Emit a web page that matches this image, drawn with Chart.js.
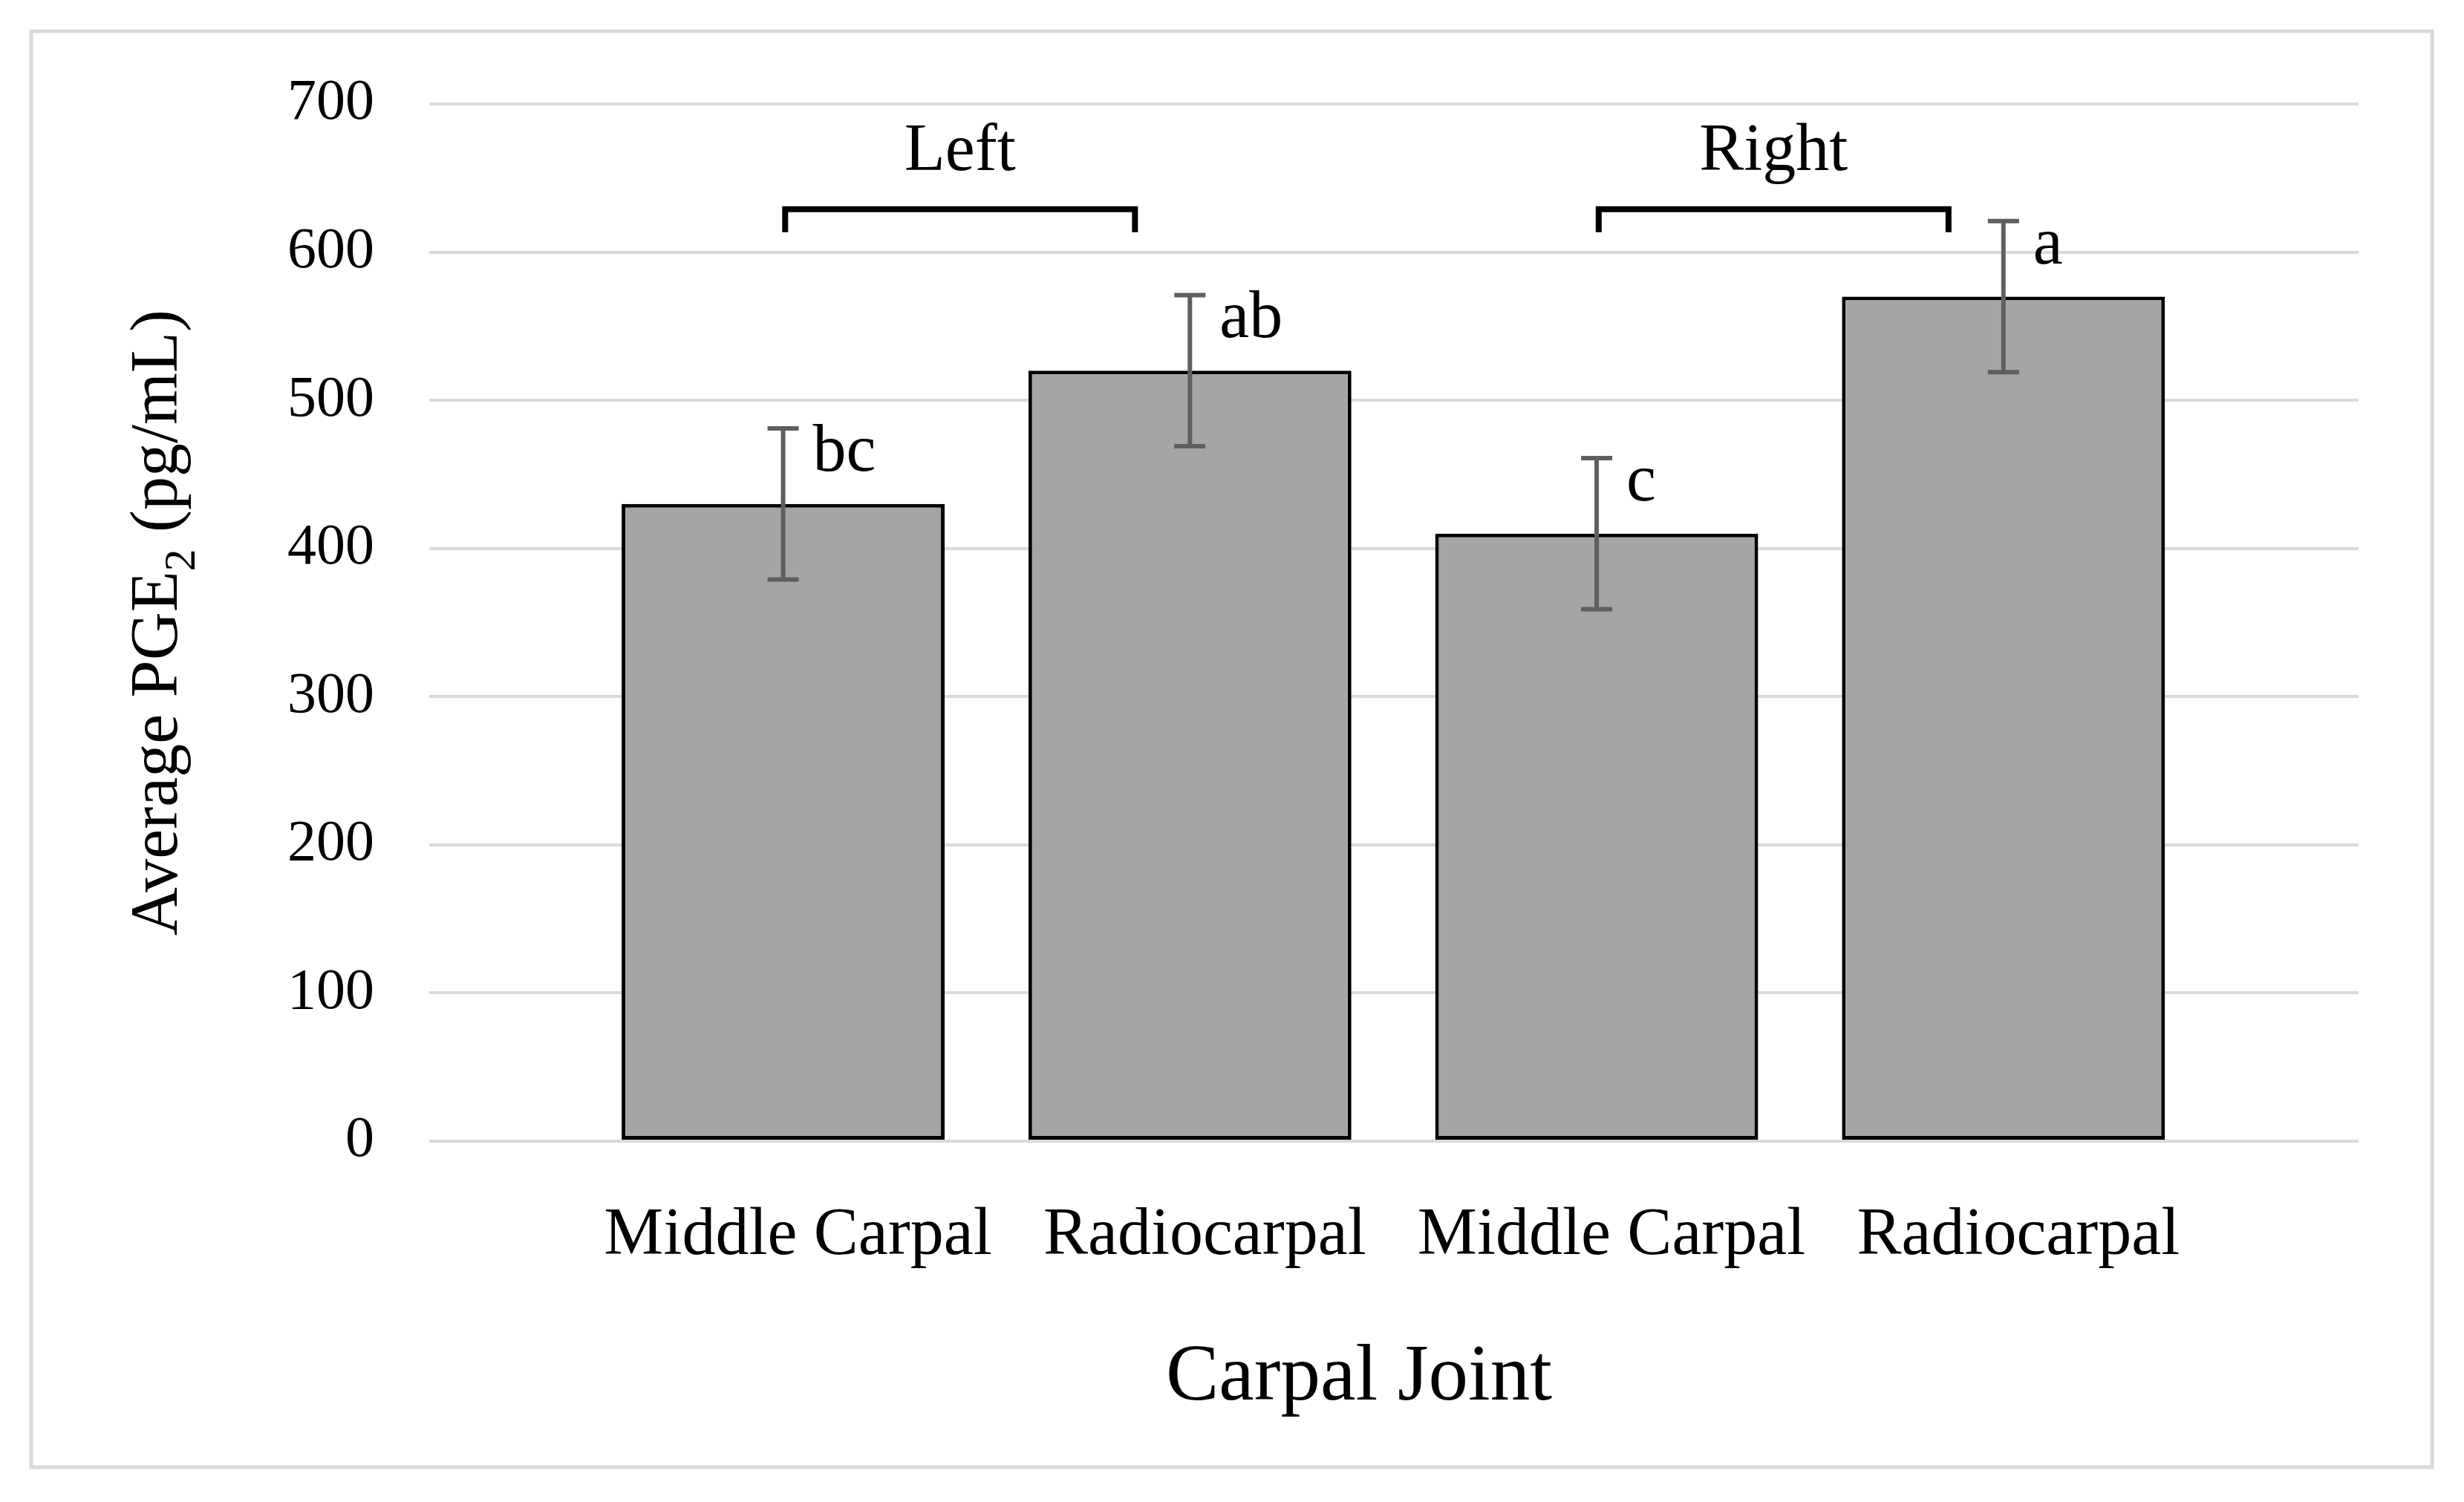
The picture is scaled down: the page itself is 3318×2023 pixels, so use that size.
<!DOCTYPE html>
<html>
<head>
<meta charset="utf-8">
<script src="https://cdn.jsdelivr.net/npm/chart.js@4.4.1/dist/chart.umd.min.js"></script>
<style>
  html, body { margin: 0; padding: 0; background: #fff; }
  #wrap { width: 3318px; height: 2023px; position: relative; }
</style>
</head>
<body>
<div id="wrap"><canvas id="myChart"></canvas></div>
<script>
// values
var categories = ['Middle Carpal', 'Radiocarpal', 'Middle Carpal', 'Radiocarpal'];
var means = [430, 520, 410, 570];
var errors = [51, 51, 51, 51];
var letters = ['bc', 'ab', 'c', 'a'];
var groupNames = ['Left', 'Right'];
var groupBars = [[0, 1], [2, 3]];
var yTickValues = [0, 100, 200, 300, 400, 500, 600, 700];

var serif = "'Liberation Serif', 'Times New Roman', serif";

// frame + background
var framePlugin = {
    id: 'frame',
    beforeDraw: function (chart) {
        var ctx = chart.ctx;
        ctx.save();
        ctx.fillStyle = '#ffffff';
        ctx.fillRect(0, 0, chart.width, chart.height);
        ctx.strokeStyle = '#d9d9d9';
        ctx.lineWidth = 5;
        ctx.strokeRect(42, 42, 3233, 1934);
        ctx.restore();
    }
};

// error bars and significance letters
var errorPlugin = {
    id: 'errorBars',
    afterDatasetsDraw: function (chart) {
        var ctx = chart.ctx, x = chart.scales.x, y = chart.scales.y;
        ctx.save();
        ctx.strokeStyle = '#5f5f5f';
        ctx.lineWidth = 6;
        means.forEach(function (m, i) {
            var px = x.getPixelForValue(i);
            var top = y.getPixelForValue(m + errors[i]);
            var bot = y.getPixelForValue(m - errors[i]);
            ctx.beginPath();
            ctx.moveTo(px, top); ctx.lineTo(px, bot);
            ctx.moveTo(px - 21, top); ctx.lineTo(px + 21, top);
            ctx.moveTo(px - 21, bot); ctx.lineTo(px + 21, bot);
            ctx.stroke();
            ctx.fillStyle = '#000';
            ctx.font = '90px ' + serif;
            ctx.textAlign = 'left';
            ctx.textBaseline = 'alphabetic';
            ctx.fillText(letters[i], px + 40, top + 57);
        });
        ctx.restore();
    }
};

// brackets, group names and axis titles
var annotPlugin = {
    id: 'annot',
    afterDraw: function (chart) {
        var ctx = chart.ctx, x = chart.scales.x, y = chart.scales.y, a = chart.chartArea;
        ctx.save();
        ctx.fillStyle = '#000';
        ctx.strokeStyle = '#000';
        ctx.lineWidth = 8;
        ctx.lineJoin = 'miter';
        var by = y.getPixelForValue(629);
        groupBars.forEach(function (g, k) {
            var x0 = x.getPixelForValue(g[0] + 0.005);
            var x1 = x.getPixelForValue(g[1] - 0.135);
            ctx.beginPath();
            ctx.moveTo(x0, by + 31); ctx.lineTo(x0, by); ctx.lineTo(x1, by); ctx.lineTo(x1, by + 31);
            ctx.stroke();
            ctx.font = '90px ' + serif;
            ctx.textAlign = 'center';
            ctx.textBaseline = 'alphabetic';
            ctx.fillText(groupNames[k], (x0 + x1) / 2, by - 53);
        });

        // x title
        ctx.font = '107px ' + serif;
        ctx.textAlign = 'center';
        ctx.fillText('Carpal Joint', (a.left + a.right) / 2 - 47, a.bottom + 348);

        // y title with subscript
        var parts = [['Average PGE', 90, 0], ['2', 60, 24], [' (pg/mL)', 90, 0]];
        var total = 0;
        parts.forEach(function (p) { ctx.font = p[1] + 'px ' + serif; p.push(ctx.measureText(p[0]).width); total += p[3]; });
        ctx.translate(238, (a.top + a.bottom) / 2);
        ctx.rotate(-Math.PI / 2);
        ctx.textAlign = 'left';
        var cx = -total / 2;
        parts.forEach(function (p) {
            ctx.font = p[1] + 'px ' + serif;
            ctx.fillText(p[0], cx, p[2]);
            cx += p[3];
        });
        ctx.restore();
    }
};

var ctx = document.getElementById('myChart');
new Chart(ctx, {
    type: 'bar',
    data: {
        datasets: [{
            data: means.map(function (v, i) { return { x: i, y: v }; }),
            backgroundColor: '#a5a5a5',
            borderColor: '#000000',
            borderWidth: 5,
            borderSkipped: false,
            categoryPercentage: 1.0,
            barPercentage: 0.794
        }]
    },
    options: {
        responsive: true,
        maintainAspectRatio: false,
        animation: false,
        devicePixelRatio: 1,
        layout: { padding: { left: 313, top: 140, right: 142, bottom: 230 } },
        plugins: {
            legend: { display: false },
            tooltip: { enabled: false }
        },
        scales: {
            x: {
                type: 'linear',
                offset: false,
                min: -0.870,
                max: 3.873,
                afterBuildTicks: function (axis) {
                    axis.ticks = categories.map(function (c, i) { return { value: i }; });
                },
                grid: { display: false, drawTicks: false },
                border: { display: false },
                ticks: {
                    autoSkip: false,
                    maxRotation: 0,
                    padding: 74,
                    labelOffset: 20,
                    color: '#000',
                    font: { family: serif, size: 90 },
                    callback: function (v) { return categories[v]; }
                }
            },
            y: {
                min: 0,
                max: 700,
                afterBuildTicks: function (axis) {
                    axis.ticks = yTickValues.map(function (v) { return { value: v }; });
                },
                grid: { color: '#d9d9d9', lineWidth: 4, drawTicks: false },
                border: { display: false },
                ticks: {
                    padding: 74,
                    color: '#000',
                    font: { family: serif, size: 78 }
                }
            }
        }
    },
    plugins: [framePlugin, errorPlugin, annotPlugin]
});
</script>
</body>
</html>
